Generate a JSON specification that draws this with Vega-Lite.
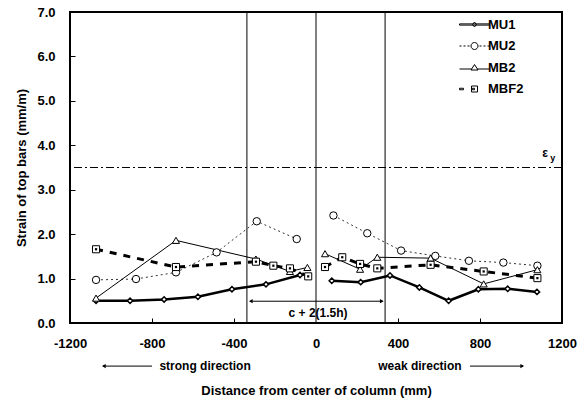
{
  "$schema": "https://vega.github.io/schema/vega-lite/v6.json",
  "width": 492,
  "height": 311,
  "autosize": {"type": "none"},
  "padding": {"left": 70, "top": 12, "right": 23, "bottom": 77},
  "background": "white",
  "config": {
    "font": "Liberation Sans",
    "view": {"stroke": "black", "strokeWidth": 2},
    "axis": {
      "domain": false,
      "grid": false,
      "labelFont": "Liberation Sans",
      "labelFontWeight": "bold",
      "labelFontSize": 13,
      "labelColor": "black",
      "titleFont": "Liberation Sans",
      "titleFontWeight": "bold",
      "titleFontSize": 13,
      "titleColor": "black",
      "tickColor": "black",
      "labelFlush": false,
      "labelOverlap": false
    }
  },
  "datasets": {
    "strain": [
      {"series": "MU1", "side": "L", "x": -1073, "y": 0.5},
      {"series": "MU1", "side": "L", "x": -907, "y": 0.5},
      {"series": "MU1", "side": "L", "x": -741, "y": 0.53},
      {"series": "MU1", "side": "L", "x": -576, "y": 0.59},
      {"series": "MU1", "side": "L", "x": -410, "y": 0.76},
      {"series": "MU1", "side": "L", "x": -244, "y": 0.87},
      {"series": "MU1", "side": "L", "x": -78, "y": 1.08},
      {"series": "MU1", "side": "R", "x": 77, "y": 0.95},
      {"series": "MU1", "side": "R", "x": 218, "y": 0.92},
      {"series": "MU1", "side": "R", "x": 361, "y": 1.07},
      {"series": "MU1", "side": "R", "x": 504, "y": 0.8},
      {"series": "MU1", "side": "R", "x": 647, "y": 0.5},
      {"series": "MU1", "side": "R", "x": 792, "y": 0.76},
      {"series": "MU1", "side": "R", "x": 935, "y": 0.77},
      {"series": "MU1", "side": "R", "x": 1078, "y": 0.7},
      {"series": "MU2", "side": "L", "x": -1073, "y": 0.97},
      {"series": "MU2", "side": "L", "x": -878, "y": 0.99},
      {"series": "MU2", "side": "L", "x": -683, "y": 1.14},
      {"series": "MU2", "side": "L", "x": -485, "y": 1.59},
      {"series": "MU2", "side": "L", "x": -289, "y": 2.29},
      {"series": "MU2", "side": "L", "x": -94, "y": 1.89},
      {"series": "MU2", "side": "R", "x": 85, "y": 2.42},
      {"series": "MU2", "side": "R", "x": 250, "y": 2.02},
      {"series": "MU2", "side": "R", "x": 415, "y": 1.63},
      {"series": "MU2", "side": "R", "x": 582, "y": 1.51},
      {"series": "MU2", "side": "R", "x": 746, "y": 1.4},
      {"series": "MU2", "side": "R", "x": 914, "y": 1.36},
      {"series": "MU2", "side": "R", "x": 1080, "y": 1.29},
      {"series": "MB2", "side": "L", "x": -1073, "y": 0.56},
      {"series": "MB2", "side": "L", "x": -683, "y": 1.86},
      {"series": "MB2", "side": "L", "x": -293, "y": 1.44},
      {"series": "MB2", "side": "L", "x": -127, "y": 1.16},
      {"series": "MB2", "side": "L", "x": -42, "y": 1.25},
      {"series": "MB2", "side": "R", "x": 44, "y": 1.56},
      {"series": "MB2", "side": "R", "x": 215, "y": 1.21},
      {"series": "MB2", "side": "R", "x": 299, "y": 1.48},
      {"series": "MB2", "side": "R", "x": 559, "y": 1.46},
      {"series": "MB2", "side": "R", "x": 818, "y": 0.88},
      {"series": "MB2", "side": "R", "x": 1080, "y": 1.2},
      {"series": "MBF2", "side": "L", "x": -1073, "y": 1.66},
      {"series": "MBF2", "side": "L", "x": -683, "y": 1.26},
      {"series": "MBF2", "side": "L", "x": -293, "y": 1.38},
      {"series": "MBF2", "side": "L", "x": -208, "y": 1.29},
      {"series": "MBF2", "side": "L", "x": -127, "y": 1.23},
      {"series": "MBF2", "side": "L", "x": -38, "y": 1.05},
      {"series": "MBF2", "side": "R", "x": 44, "y": 1.26},
      {"series": "MBF2", "side": "R", "x": 128, "y": 1.48},
      {"series": "MBF2", "side": "R", "x": 215, "y": 1.33},
      {"series": "MBF2", "side": "R", "x": 299, "y": 1.23},
      {"series": "MBF2", "side": "R", "x": 559, "y": 1.31},
      {"series": "MBF2", "side": "R", "x": 818, "y": 1.16},
      {"series": "MBF2", "side": "R", "x": 1080, "y": 1.01}
    ],
    "vlines": [{"x": -337}, {"x": 0}, {"x": 337}],
    "hline": [{"y": 3.5}],
    "arrows": [
      {"name": "span", "x": -322, "x2": 325, "y": 0.49},
      {"name": "strong", "x": -1039, "x2": -800, "y": -0.97},
      {"name": "weak", "x": 751, "x2": 1010, "y": -0.97}
    ],
    "heads": [
      {"dir": "left", "x": -318, "y": 0.49},
      {"dir": "right", "x": 321, "y": 0.49},
      {"dir": "left", "x": -1035, "y": -0.97},
      {"dir": "right", "x": 1006, "y": -0.97}
    ],
    "labels": [
      {"text": "c + 2(1.5h)", "x": 10, "y": 0.22, "kind": "main"},
      {"text": "strong direction", "x": -541, "y": -0.97, "kind": "main"},
      {"text": "weak direction", "x": 507, "y": -0.97, "kind": "main"},
      {"text": "ε", "x": 1117, "y": 3.82, "kind": "main"},
      {"text": "y", "x": 1155, "y": 3.72, "kind": "sub"}
    ]
  },
  "layer": [
    {
      "layer": [
        {
          "data": {"name": "vlines"},
          "mark": {"type": "rule", "color": "black", "strokeWidth": 1},
          "encoding": {
            "x": {"field": "x", "type": "quantitative", "scale": {"domain": [-1200, 1200], "nice": false},
              "axis": {"values": [-1200, -800, -400, 0, 400, 800, 1200], "labelExpr": "'' + datum.value", "ticks": false, "title": "Distance from center of column (mm)", "labelPadding": 14, "titlePadding": 34}}
          }
        },
        {
          "data": {"name": "hline"},
          "mark": {"type": "rule", "color": "black", "strokeWidth": 1, "strokeDash": [8, 3, 2, 3]},
          "encoding": {
            "y": {"field": "y", "type": "quantitative", "scale": {"domain": [0, 7], "nice": false},
              "axis": {"values": [0, 1, 2, 3, 4, 5, 6, 7], "format": ".1f", "ticks": false, "title": "Strain of top bars (mm/m)", "labelPadding": 15, "titlePadding": 8}}
          }
        },
        {
          "data": {"name": "strain"},
          "transform": [{"filter": "datum.series == 'MU1'"}],
          "mark": {"type": "line", "color": "black", "strokeWidth": 2.5},
          "encoding": {"x": {"field": "x", "type": "quantitative"}, "y": {"field": "y", "type": "quantitative"}, "detail": {"field": "side"}}
        },
        {
          "data": {"name": "strain"},
          "transform": [{"filter": "datum.series == 'MU2'"}],
          "mark": {"type": "line", "color": "#333", "strokeWidth": 1, "strokeDash": [2, 3]},
          "encoding": {"x": {"field": "x", "type": "quantitative"}, "y": {"field": "y", "type": "quantitative"}, "detail": {"field": "side"}}
        },
        {
          "data": {"name": "strain"},
          "transform": [{"filter": "datum.series == 'MB2'"}],
          "mark": {"type": "line", "color": "black", "strokeWidth": 1},
          "encoding": {"x": {"field": "x", "type": "quantitative"}, "y": {"field": "y", "type": "quantitative"}, "detail": {"field": "side"}}
        },
        {
          "data": {"name": "strain"},
          "transform": [{"filter": "datum.series == 'MBF2'"}],
          "mark": {"type": "line", "color": "black", "strokeWidth": 3, "strokeDash": [7, 7]},
          "encoding": {"x": {"field": "x", "type": "quantitative"}, "y": {"field": "y", "type": "quantitative"}, "detail": {"field": "side"}}
        },
        {
          "data": {"name": "strain"},
          "transform": [{"filter": "datum.series == 'MU1'"}],
          "mark": {"type": "point", "shape": "diamond", "size": 28, "filled": true, "fill": "white", "stroke": "black", "strokeWidth": 1.5, "opacity": 1},
          "encoding": {"x": {"field": "x", "type": "quantitative"}, "y": {"field": "y", "type": "quantitative"}}
        },
        {
          "data": {"name": "strain"},
          "transform": [{"filter": "datum.series == 'MU2'"}],
          "mark": {"type": "point", "shape": "circle", "size": 55, "filled": true, "fill": "white", "stroke": "black", "strokeWidth": 1, "opacity": 1},
          "encoding": {"x": {"field": "x", "type": "quantitative"}, "y": {"field": "y", "type": "quantitative"}}
        },
        {
          "data": {"name": "strain"},
          "transform": [{"filter": "datum.series == 'MB2'"}],
          "mark": {"type": "point", "shape": "triangle-up", "size": 50, "filled": true, "fill": "white", "stroke": "black", "strokeWidth": 1, "opacity": 1},
          "encoding": {"x": {"field": "x", "type": "quantitative"}, "y": {"field": "y", "type": "quantitative"}}
        },
        {
          "data": {"name": "strain"},
          "transform": [{"filter": "datum.series == 'MBF2'"}],
          "mark": {"type": "point", "shape": "square", "size": 50, "filled": true, "fill": "white", "stroke": "black", "strokeWidth": 1, "opacity": 1},
          "encoding": {"x": {"field": "x", "type": "quantitative"}, "y": {"field": "y", "type": "quantitative"}}
        },
        {
          "data": {"name": "strain"},
          "transform": [{"filter": "datum.series == 'MBF2'"}],
          "mark": {"type": "point", "shape": "square", "size": 5, "filled": true, "color": "black", "opacity": 1, "dx": -1},
          "encoding": {"x": {"field": "x", "type": "quantitative"}, "y": {"field": "y", "type": "quantitative"}}
        },
        {
          "data": {"name": "arrows"},
          "mark": {"type": "rule", "color": "black", "strokeWidth": 1},
          "encoding": {"x": {"field": "x", "type": "quantitative"}, "x2": {"field": "x2"}, "y": {"field": "y", "type": "quantitative"}}
        },
        {
          "data": {"name": "heads"},
          "mark": {"type": "point", "filled": true, "color": "black", "size": 18, "opacity": 1},
          "encoding": {
            "x": {"field": "x", "type": "quantitative"},
            "y": {"field": "y", "type": "quantitative"},
            "shape": {"field": "dir", "type": "nominal", "scale": {"domain": ["left", "right"], "range": ["triangle-left", "triangle-right"]}, "legend": null}
          }
        },
        {
          "data": {"name": "labels"},
          "transform": [{"filter": "datum.kind == 'main'"}],
          "mark": {"type": "text", "font": "Liberation Sans", "fontWeight": "bold", "fontSize": 12, "color": "black", "align": "center", "baseline": "middle"},
          "encoding": {"x": {"field": "x", "type": "quantitative"}, "y": {"field": "y", "type": "quantitative"}, "text": {"field": "text"}}
        },
        {
          "data": {"name": "labels"},
          "transform": [{"filter": "datum.kind == 'sub'"}],
          "mark": {"type": "text", "font": "Liberation Sans", "fontWeight": "bold", "fontSize": 9, "color": "black", "align": "center", "baseline": "middle"},
          "encoding": {"x": {"field": "x", "type": "quantitative"}, "y": {"field": "y", "type": "quantitative"}, "text": {"field": "text"}}
        },
        {
          "data": {"name": "strain"},
          "transform": [{"filter": "false"}],
          "mark": {"type": "point", "filled": false, "color": "black", "strokeWidth": 1, "opacity": 1},
          "encoding": {
            "x": {"field": "x", "type": "quantitative"},
            "y": {"field": "y", "type": "quantitative"},
            "shape": {
              "field": "series", "type": "nominal",
              "scale": {
                "domain": ["MU1", "MU2", "MB2", "MBF2"],
                "range": [
                  "M-3,-0.12H3V0.12H-3Z M0,-0.5L0.4,0L0,0.5L-0.4,0Z",
                  "M-3,0H-2.6M-2.2,0H-1.8M-1.4,0H-1M1,0H1.4M1.8,0H2.2M2.6,0H3M-0.7,0A0.7,0.7 0 1,1 0.7,0A0.7,0.7 0 1,1 -0.7,0",
                  "M-3,0.3H-0.55M0.55,0.3H3M0,-0.6L0.7,0.5H-0.7Z",
                  "M-3,-0.15H-2.2V0.15H-3Z M-0.6,-0.6H0.6V0.6H-0.6Z M-0.4,-0.15H0V0.15H-0.4Z"
                ]
              },
              "legend": {
                "title": null, "orient": "none", "legendX": 398, "legendY": 6,
                "symbolSize": 100, "symbolStrokeWidth": 1, "symbolStrokeColor": "black",
                "labelFont": "Liberation Sans", "labelFontWeight": "bold", "labelFontSize": 13, "labelColor": "black",
                "labelOffset": 7, "rowPadding": 7.5, "padding": 0
              }
            }
          }
        }
      ],
      "resolve": {"scale": {"shape": "independent"}}
    },
    {
      "data": {"name": "hline"},
      "mark": {"type": "point", "opacity": 0},
      "encoding": {
        "x": {"datum": 0, "type": "quantitative",
          "axis": {"orient": "bottom", "values": [-800, -400, 400, 800], "labels": false, "title": null, "domain": false, "ticks": true, "tickSize": 5, "offset": -5}},
        "y": {"field": "y", "type": "quantitative",
          "axis": {"orient": "left", "values": [1, 2, 3, 4, 5, 6], "labels": false, "title": null, "domain": false, "ticks": true, "tickSize": 5, "offset": -5}}
      }
    }
  ],
  "resolve": {"scale": {"shape": "independent"}, "axis": {"x": "independent", "y": "independent"}}
}
